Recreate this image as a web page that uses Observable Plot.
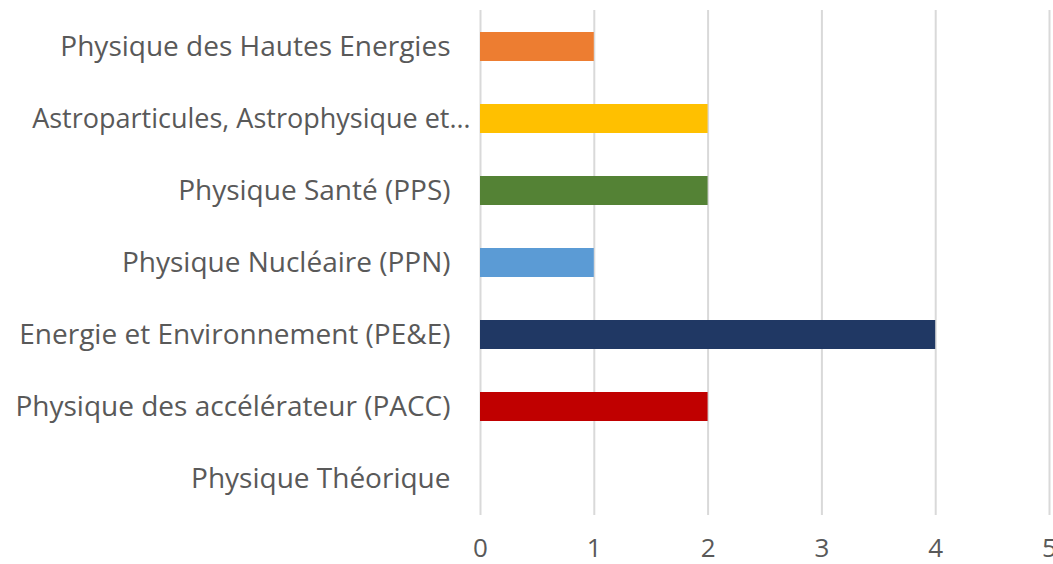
<!DOCTYPE html>
<html>
<head>
<meta charset="utf-8">
<script src="https://cdn.jsdelivr.net/npm/d3@7"></script>
<script src="https://cdn.jsdelivr.net/npm/@observablehq/plot@0.6"></script>
<style>
  html, body { margin: 0; padding: 0; background: #fff; overflow: hidden; }
  #chart { width: 1053px; height: 564px; }
</style>
</head>
<body>
<div id="chart"></div>
<script>
const categories = [
  "Physique des Hautes Energies",
  "Astroparticules, Astrophysique et…",
  "Physique Santé (PPS)",
  "Physique Nucléaire (PPN)",
  "Energie et Environnement (PE&E)",
  "Physique des accélérateur (PACC)",
  "Physique Théorique"
];
const values = [1, 2, 2, 1, 4, 2, 0];
const colors = ["#ED7D31", "#FFC000", "#548235", "#5B9BD5", "#203864", "#C00000", "#A5A5A5"];
const xTicks = [0, 1, 2, 3, 4, 5];

const data = categories.map((c, i) => ({category: c, value: values[i]}));
const truncated = categories.filter(c => c.endsWith("…"));
const regular = categories.filter(c => !c.endsWith("…"));

const chart = Plot.plot({
  width: 1053,
  height: 564,
  marginLeft: 480,
  marginRight: 4,
  marginTop: 10,
  marginBottom: 49,
  style: {fontFamily: "'Open Sans', Lato, sans-serif", fontSize: "28px", color: "#595959", background: "#fff", overflow: "visible"},
  x: {domain: [0, 5], label: null},
  y: {domain: categories, paddingInner: 0.6, paddingOuter: 0.3, label: null},
  color: {domain: categories, range: colors},
  marks: [
    Plot.ruleX(xTicks, {stroke: "#D9D9D9", strokeWidth: 2}),
    Plot.barX(data, {x: "value", y: "category", fill: "category"}),
    Plot.axisX({ticks: xTicks, tickFormat: d3.format("d"), tickSize: 0, tickPadding: 23, fontSize: 26, label: null, fill: "#595959"}),
    Plot.axisY({ticks: regular, tickSize: 0, tickPadding: 30, label: null, fill: "#595959"}),
    Plot.axisY({ticks: truncated, tickSize: 0, tickPadding: 30, dx: 20, fontSize: 27, label: null, fill: "#595959"})
  ]
});
document.getElementById("chart").appendChild(chart);
</script>
</body>
</html>
